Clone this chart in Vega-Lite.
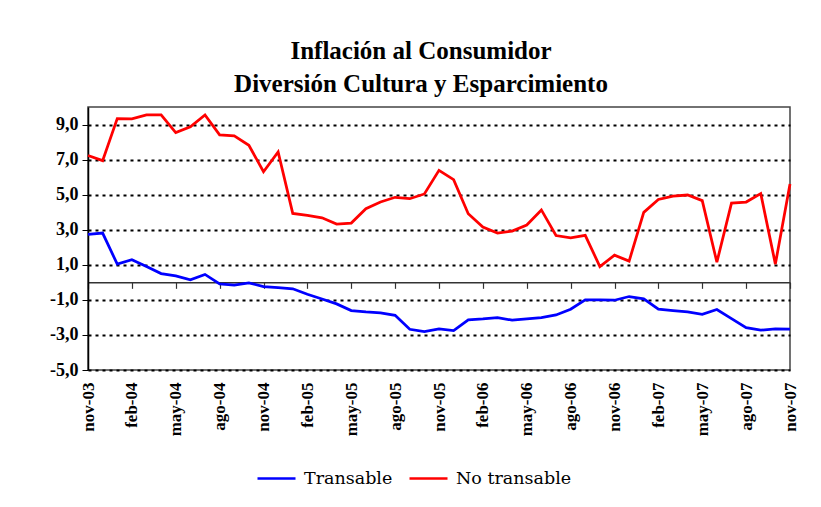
{
  "$schema": "https://vega.github.io/schema/vega-lite/v6.json",
  "width": 702,
  "height": 263,
  "autosize": {"type": "none"},
  "padding": {"left": 88, "top": 107, "right": 31, "bottom": 137},
  "background": "white",
  "title": {
    "text": ["Inflación al Consumidor", "Diversión Cultura y Esparcimiento"],
    "font": "Liberation Serif",
    "fontSize": 25,
    "fontWeight": "bold",
    "color": "black",
    "anchor": "middle",
    "dx": -18,
    "lineHeight": 33,
    "offset": 10
  },
  "data": {
    "values": [
      {"mes": "nov-03", "serie": "Transable", "valor": 2.73},
      {"mes": "dic-03", "serie": "Transable", "valor": 2.81},
      {"mes": "ene-04", "serie": "Transable", "valor": 1.04},
      {"mes": "feb-04", "serie": "Transable", "valor": 1.29},
      {"mes": "mar-04", "serie": "Transable", "valor": 0.9},
      {"mes": "abr-04", "serie": "Transable", "valor": 0.5},
      {"mes": "may-04", "serie": "Transable", "valor": 0.37},
      {"mes": "jun-04", "serie": "Transable", "valor": 0.14},
      {"mes": "jul-04", "serie": "Transable", "valor": 0.45},
      {"mes": "ago-04", "serie": "Transable", "valor": -0.09},
      {"mes": "sep-04", "serie": "Transable", "valor": -0.16},
      {"mes": "oct-04", "serie": "Transable", "valor": -0.03},
      {"mes": "nov-04", "serie": "Transable", "valor": -0.24},
      {"mes": "dic-04", "serie": "Transable", "valor": -0.3},
      {"mes": "ene-05", "serie": "Transable", "valor": -0.37},
      {"mes": "feb-05", "serie": "Transable", "valor": -0.68},
      {"mes": "mar-05", "serie": "Transable", "valor": -0.95},
      {"mes": "abr-05", "serie": "Transable", "valor": -1.23},
      {"mes": "may-05", "serie": "Transable", "valor": -1.61},
      {"mes": "jun-05", "serie": "Transable", "valor": -1.69},
      {"mes": "jul-05", "serie": "Transable", "valor": -1.74},
      {"mes": "ago-05", "serie": "Transable", "valor": -1.88},
      {"mes": "sep-05", "serie": "Transable", "valor": -2.68},
      {"mes": "oct-05", "serie": "Transable", "valor": -2.81},
      {"mes": "nov-05", "serie": "Transable", "valor": -2.66},
      {"mes": "dic-05", "serie": "Transable", "valor": -2.75},
      {"mes": "ene-06", "serie": "Transable", "valor": -2.14},
      {"mes": "feb-06", "serie": "Transable", "valor": -2.09},
      {"mes": "mar-06", "serie": "Transable", "valor": -2.01},
      {"mes": "abr-06", "serie": "Transable", "valor": -2.16},
      {"mes": "may-06", "serie": "Transable", "valor": -2.09},
      {"mes": "jun-06", "serie": "Transable", "valor": -2.01},
      {"mes": "jul-06", "serie": "Transable", "valor": -1.86},
      {"mes": "ago-06", "serie": "Transable", "valor": -1.53},
      {"mes": "sep-06", "serie": "Transable", "valor": -1.0},
      {"mes": "oct-06", "serie": "Transable", "valor": -1.0},
      {"mes": "nov-06", "serie": "Transable", "valor": -1.02},
      {"mes": "dic-06", "serie": "Transable", "valor": -0.81},
      {"mes": "ene-07", "serie": "Transable", "valor": -0.94},
      {"mes": "feb-07", "serie": "Transable", "valor": -1.53},
      {"mes": "mar-07", "serie": "Transable", "valor": -1.61},
      {"mes": "abr-07", "serie": "Transable", "valor": -1.69},
      {"mes": "may-07", "serie": "Transable", "valor": -1.82},
      {"mes": "jun-07", "serie": "Transable", "valor": -1.55},
      {"mes": "jul-07", "serie": "Transable", "valor": -2.07},
      {"mes": "ago-07", "serie": "Transable", "valor": -2.58},
      {"mes": "sep-07", "serie": "Transable", "valor": -2.73},
      {"mes": "oct-07", "serie": "Transable", "valor": -2.66},
      {"mes": "nov-07", "serie": "Transable", "valor": -2.67},
      {"mes": "nov-03", "serie": "No transable", "valor": 7.23},
      {"mes": "dic-03", "serie": "No transable", "valor": 6.94},
      {"mes": "ene-04", "serie": "No transable", "valor": 9.34},
      {"mes": "feb-04", "serie": "No transable", "valor": 9.32},
      {"mes": "mar-04", "serie": "No transable", "valor": 9.55},
      {"mes": "abr-04", "serie": "No transable", "valor": 9.55},
      {"mes": "may-04", "serie": "No transable", "valor": 8.54},
      {"mes": "jun-04", "serie": "No transable", "valor": 8.87},
      {"mes": "jul-04", "serie": "No transable", "valor": 9.55},
      {"mes": "ago-04", "serie": "No transable", "valor": 8.41},
      {"mes": "sep-04", "serie": "No transable", "valor": 8.35},
      {"mes": "oct-04", "serie": "No transable", "valor": 7.82},
      {"mes": "nov-04", "serie": "No transable", "valor": 6.31},
      {"mes": "dic-04", "serie": "No transable", "valor": 7.44},
      {"mes": "ene-05", "serie": "No transable", "valor": 3.93},
      {"mes": "feb-05", "serie": "No transable", "valor": 3.82},
      {"mes": "mar-05", "serie": "No transable", "valor": 3.68},
      {"mes": "abr-05", "serie": "No transable", "valor": 3.32},
      {"mes": "may-05", "serie": "No transable", "valor": 3.38},
      {"mes": "jun-05", "serie": "No transable", "valor": 4.2},
      {"mes": "jul-05", "serie": "No transable", "valor": 4.58},
      {"mes": "ago-05", "serie": "No transable", "valor": 4.85},
      {"mes": "sep-05", "serie": "No transable", "valor": 4.77},
      {"mes": "oct-05", "serie": "No transable", "valor": 5.04},
      {"mes": "nov-05", "serie": "No transable", "valor": 6.39},
      {"mes": "dic-05", "serie": "No transable", "valor": 5.86},
      {"mes": "ene-06", "serie": "No transable", "valor": 3.91},
      {"mes": "feb-06", "serie": "No transable", "valor": 3.15},
      {"mes": "mar-06", "serie": "No transable", "valor": 2.81},
      {"mes": "abr-06", "serie": "No transable", "valor": 2.92},
      {"mes": "may-06", "serie": "No transable", "valor": 3.27},
      {"mes": "jun-06", "serie": "No transable", "valor": 4.13},
      {"mes": "jul-06", "serie": "No transable", "valor": 2.67},
      {"mes": "ago-06", "serie": "No transable", "valor": 2.54},
      {"mes": "sep-06", "serie": "No transable", "valor": 2.68},
      {"mes": "oct-06", "serie": "No transable", "valor": 0.9},
      {"mes": "nov-06", "serie": "No transable", "valor": 1.55},
      {"mes": "dic-06", "serie": "No transable", "valor": 1.21},
      {"mes": "ene-07", "serie": "No transable", "valor": 3.99},
      {"mes": "feb-07", "serie": "No transable", "valor": 4.73},
      {"mes": "mar-07", "serie": "No transable", "valor": 4.92},
      {"mes": "abr-07", "serie": "No transable", "valor": 4.98},
      {"mes": "may-07", "serie": "No transable", "valor": 4.66},
      {"mes": "jun-07", "serie": "No transable", "valor": 1.15},
      {"mes": "jul-07", "serie": "No transable", "valor": 4.52},
      {"mes": "ago-07", "serie": "No transable", "valor": 4.58},
      {"mes": "sep-07", "serie": "No transable", "valor": 5.06},
      {"mes": "oct-07", "serie": "No transable", "valor": 1.04},
      {"mes": "nov-07", "serie": "No transable", "valor": 5.61}
    ]
  },
  "layer": [
    {
      "mark": {"type": "point", "opacity": 0},
      "encoding": {
        "x": {
          "field": "mes",
          "type": "ordinal",
          "sort": null,
          "scale": {"type": "point", "padding": 0},
          "axis": {
            "orient": "bottom",
            "offset": -87.67,
            "values": ["nov-03","feb-04","may-04","ago-04","nov-04","feb-05","may-05","ago-05","nov-05","feb-06","may-06","ago-06","nov-06","feb-07","may-07","ago-07","nov-07"],
            "labels": false,
            "title": null,
            "grid": false,
            "domain": true,
            "domainColor": "#333333",
            "domainWidth": 1.5,
            "ticks": true,
            "tickColor": "#333333",
            "tickWidth": 1.2,
            "tickSize": 6
          }
        }
      }
    },
    {
      "mark": {"type": "line", "strokeWidth": 2.75},
      "encoding": {
        "x": {
          "field": "mes",
          "type": "ordinal",
          "sort": null,
          "scale": {"type": "point", "padding": 0},
          "axis": {
            "orient": "bottom",
            "values": ["nov-03","feb-04","may-04","ago-04","nov-04","feb-05","may-05","ago-05","nov-05","feb-06","may-06","ago-06","nov-06","feb-07","may-07","ago-07","nov-07"],
            "labelAngle": -90,
            "labelFont": "Liberation Serif",
            "labelFontWeight": "bold",
            "labelFontSize": 17,
            "labelColor": "black",
            "labelPadding": 12,
            "title": null,
            "grid": false,
            "domain": false,
            "ticks": false
          }
        },
        "y": {
          "field": "valor",
          "type": "quantitative",
          "scale": {"domain": [-5, 10], "nice": false, "zero": false},
          "axis": {
            "values": [-5, -3, -1, 1, 3, 5, 7, 9],
            "labelExpr": "replace(replace(format(datum.value, '.1f'), '.', ','), '\u2212', '-')",
            "labelFont": "Liberation Serif",
            "labelFontWeight": "bold",
            "labelFontSize": 18,
            "labelColor": "black",
            "labelPadding": 4,
            "title": null,
            "grid": true,
            "gridColor": "black",
            "gridDash": [3, 4],
            "gridWidth": 2,
            "domain": true,
            "domainColor": "black",
            "domainWidth": 1.5,
            "ticks": true,
            "tickColor": "black",
            "tickSize": 6
          }
        },
        "color": {
          "field": "serie",
          "type": "nominal",
          "scale": {"domain": ["Transable", "No transable"], "range": ["#0000FF", "#FF0000"]},
          "legend": {
            "title": null,
            "orient": "none",
            "direction": "horizontal",
            "legendX": 168,
            "legendY": 351,
            "symbolType": "stroke",
            "symbolSize": 1444,
            "symbolStrokeWidth": 2.5,
            "labelFont": "DejaVu Serif",
            "labelFontWeight": "normal",
            "labelFontSize": 17.5,
            "labelColor": "black",
            "labelOffset": 7,
            "columnPadding": 11,
            "padding": 0
          }
        }
      }
    }
  ],
  "resolve": {"axis": {"x": "independent"}},
  "config": {
    "font": "Liberation Serif",
    "view": {"stroke": "#444444", "strokeWidth": 1.5}
  }
}
